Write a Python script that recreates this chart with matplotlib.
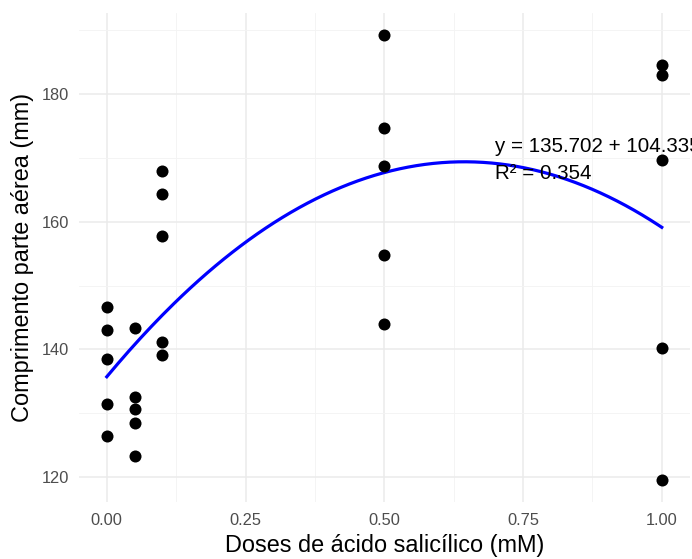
import numpy as np
import matplotlib
matplotlib.use("Agg")
import matplotlib.pyplot as plt
from matplotlib.ticker import MultipleLocator

plt.rcParams['font.family'] = ['Liberation Sans', 'DejaVu Sans']

# data
dose = [0.0]*5 + [0.05]*5 + [0.1]*5 + [0.5]*5 + [1.0]*5
length = [146.7, 143.1, 138.5, 131.4, 126.4,
          143.3, 132.5, 130.6, 128.5, 123.3,
          168.0, 164.4, 157.7, 141.2, 139.1,
          189.2, 174.6, 168.75, 154.8, 144.0,
          184.5, 183.0, 169.6, 140.3, 119.6]
eq_label = "y = 135.702 + 104.335x - 80.805x²\nR² = 0.354"
x_ticks = [0.0, 0.25, 0.5, 0.75, 1.0]
x_ticklabels = ["0.00", "0.25", "0.50", "0.75", "1.00"]
y_ticks = [120, 140, 160, 180]

x = np.array(dose)
y = np.array(length)

fig = plt.figure(figsize=(6.92, 5.59), dpi=100)
ax = fig.add_axes([0.1142, 0.102, 0.8822, 0.875])

coef = np.polyfit(x, y, 2)
xs = np.linspace(0, 1, 200)
ax.plot(xs, np.polyval(coef, xs), color='#0000FF', lw=2.3, zorder=2)
ax.scatter(x, y, s=75, color='black', zorder=3, linewidths=0)

ax.text(0.7, 169.6, eq_label, ha='left', va='center', fontsize=14.8,
        color='black', linespacing=1.55, zorder=4)

xmin, xmax = x.min(), x.max()
ymin, ymax = y.min(), y.max()
ax.set_xlim(xmin - 0.05*(xmax-xmin), xmax + 0.05*(xmax-xmin))
ax.set_ylim(ymin - 0.05*(ymax-ymin), ymax + 0.05*(ymax-ymin))

ax.set_xticks(x_ticks)
ax.set_xticklabels(x_ticklabels)
ax.set_yticks(y_ticks)
ax.xaxis.set_minor_locator(MultipleLocator(0.125))
ax.yaxis.set_minor_locator(MultipleLocator(10))

ax.grid(True, which='major', color='#EBEBEB', lw=1.1)
ax.grid(True, which='minor', color='#F3F3F3', lw=0.6)
ax.set_axisbelow(True)
for s in ax.spines.values():
    s.set_visible(False)
ax.tick_params(which='both', length=0, labelsize=11.8, labelcolor='#4D4D4D')
ax.tick_params(axis='x', pad=8)
ax.tick_params(axis='y', pad=7)

ax.set_xlabel("Doses de ácido salicílico (mM)", fontsize=16.9, labelpad=4)
ax.set_ylabel("Comprimento parte aérea (mm)", fontsize=16.9, labelpad=6)

fig.savefig("out.png", dpi=100)
